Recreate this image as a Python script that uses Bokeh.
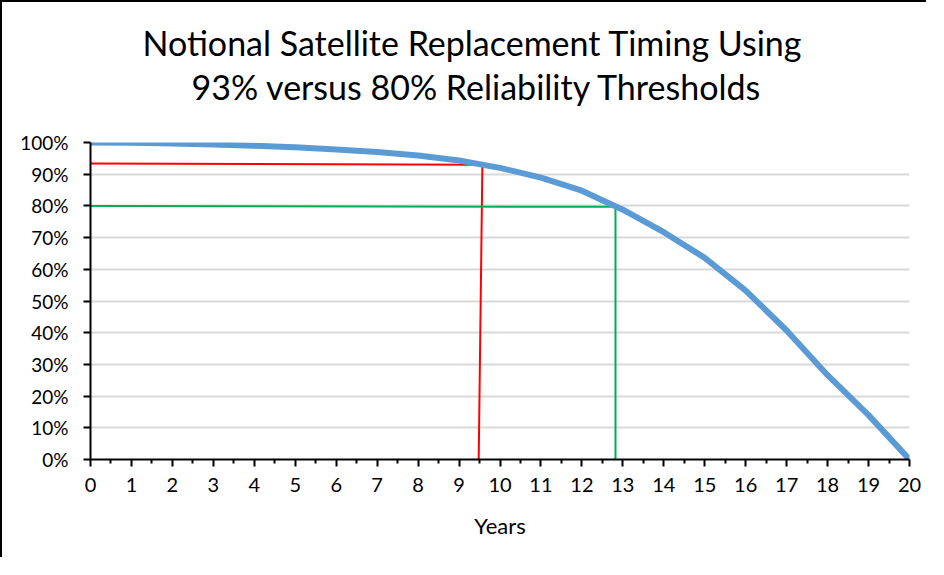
from bokeh.plotting import figure
from bokeh.models import Range1d, Title, FixedTicker, NumeralTickFormatter
from bokeh.embed import file_html
from bokeh.resources import INLINE

# ---- data ----
years = list(range(0, 21))
reliability = [1.000, 0.999, 0.997, 0.994, 0.990, 0.985, 0.978, 0.970, 0.959,
               0.943, 0.920, 0.889, 0.848, 0.788, 0.717, 0.636, 0.533, 0.407,
               0.266, 0.140, 0.000]
red_x = [0.0, 9.57, 9.48]
red_y = [0.934, 0.930, 0.0]
green_x = [0.0, 12.82, 12.82]
green_y = [0.800, 0.797, 0.0]
x_ticks = list(range(0, 21))
y_ticks = [0.0, 0.1, 0.2, 0.3, 0.4, 0.5, 0.6, 0.7, 0.8, 0.9, 1.0]
title_lines = ["Notional Satellite Replacement Timing Using",
               "93% versus 80% Reliability Thresholds"]
x_label = "Years"

FONT = "Lato"

p = figure(width=926, height=557, output_backend="svg", toolbar_location=None,
           x_range=Range1d(0, 20), y_range=Range1d(0, 1),
           min_border_left=88, min_border_top=140, min_border_right=19,
           min_border_bottom=100)
p.styles = {"border-top": "2px solid black", "border-left": "2px solid black"}
p.outline_line_color = None
p.background_fill_color = "white"
p.border_fill_color = "white"

# grid
p.xgrid.grid_line_color = None
p.ygrid.ticker = FixedTicker(ticks=y_ticks)
p.ygrid.grid_line_color = "#d9d9d9"
p.ygrid.grid_line_width = 2

# x axis
xa = p.xaxis[0]
xa.ticker = FixedTicker(ticks=x_ticks, minor_ticks=[t + 0.5 for t in x_ticks[:-1]])
xa.axis_line_color = "black"
xa.axis_line_width = 2
xa.major_tick_line_width = 2
xa.major_tick_out = 7
xa.major_tick_in = 0
xa.minor_tick_line_width = 2
xa.minor_tick_out = 4
xa.minor_tick_in = 0
xa.major_label_text_font = FONT
xa.major_label_text_font_size = "20px"
xa.major_label_text_color = "black"
xa.major_label_standoff = 11
xa.axis_label = x_label
xa.axis_label_text_font = FONT
xa.axis_label_text_font_size = "22px"
xa.axis_label_text_font_style = "normal"
xa.axis_label_text_color = "black"
xa.axis_label_standoff = 17

# y axis
ya = p.yaxis[0]
ya.ticker = FixedTicker(ticks=y_ticks, minor_ticks=[])
ya.formatter = NumeralTickFormatter(format="0%")
ya.axis_line_color = "black"
ya.axis_line_width = 2
ya.major_tick_line_width = 2
ya.major_tick_out = 7
ya.major_tick_in = 0
ya.minor_tick_line_color = None
ya.major_label_text_font = FONT
ya.major_label_text_font_size = "19px"
ya.major_label_text_color = "black"
ya.major_label_standoff = 15

# lines
p.line(red_x, red_y, line_color="#ff0000", line_width=2)
p.line(green_x, green_y, line_color="#00b050", line_width=2)
p.line(years, reliability, line_color="#5b9bd5", line_width=6, line_join="round")

# title panels: p.title is outermost; items in p.above stack outward from
# the frame in the order they are added (spacer first, then line 2)
p.title.text = title_lines[0]
p.title.align = "left"
p.title.offset = 52
p.title.vertical_align = "bottom"
p.title.text_font = FONT
p.title.text_font_size = "34px"
p.title.text_font_style = "normal"
p.title.text_color = "black"
p.title.standoff = 2
p.add_layout(Title(text=" ", align="left", text_font=FONT,
                   text_font_size="2px", standoff=32), "above")
p.add_layout(Title(text=title_lines[1], align="left", offset=101,
                   vertical_align="bottom",
                   text_font=FONT, text_font_size="34px",
                   text_font_style="normal", text_color="black",
                   standoff=0), "above")

open("out.html", "w").write(file_html(p, INLINE))
